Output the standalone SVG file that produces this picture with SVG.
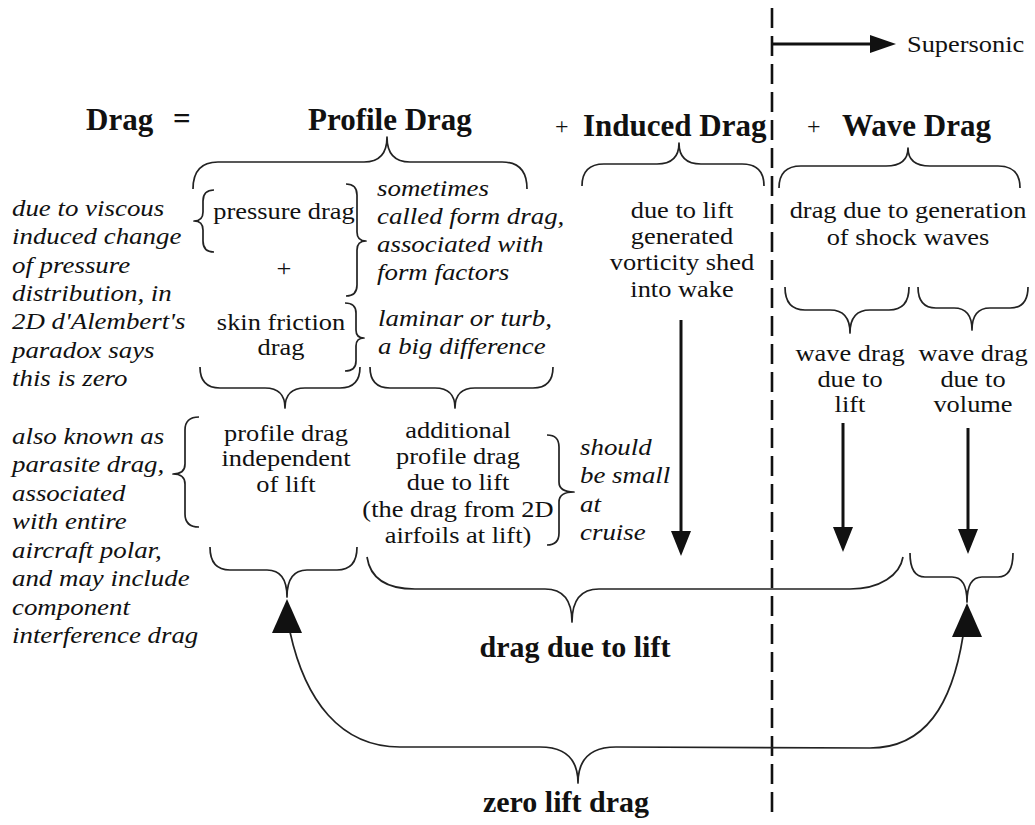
<svg xmlns="http://www.w3.org/2000/svg" width="1035" height="825" viewBox="0 0 1035 825">
<style>
text{font-family:"Liberation Serif","DejaVu Serif",serif;fill:#111}
.h{font-size:31px;font-weight:bold}
.b{font-size:30px;font-weight:bold}
.r{font-size:24px}
.i{font-size:24px;font-style:italic}
.brace{fill:none;stroke:#222;stroke-width:1.7;stroke-linejoin:round}
.shaft{fill:none;stroke:#111;stroke-width:3}
.head{fill:#111}
.dash{stroke:#111;stroke-width:2.6;stroke-dasharray:20 8}
</style>
<rect width="1035" height="825" fill="#fff"/>

<g id="equation">
<text class="h" x="86" y="130">Drag</text>
<text class="h" x="173" y="129">=</text>
<text class="r" x="555" y="134">+</text>
<text class="r" x="807" y="134">+</text>
</g>

<g id="supersonic-divider">
<line class="dash" x1="772" y1="8" x2="772" y2="812"/>
<text class="r" transform="translate(907,0) scale(1.1,1)"><tspan x="0" y="52">Supersonic</tspan></text>
</g>

<g id="profile-drag">
<text class="h" x="308" y="130">Profile Drag</text>
<path class="brace" d="M193,189 Q193,162 218,162 L364,162 Q387,162 387,137 Q387,162 410,162 L502,162 Q527,162 527,189"/>
</g>

<g id="pressure-drag">
<path class="brace" d="M214,190 Q203,190 203,201 L203,212 Q203,221 194,221 Q203,221 203,230 L203,241 Q203,252 214,252"/>
<text class="r" transform="translate(284,0) scale(1.1,1)" text-anchor="middle"><tspan x="0" y="219">pressure drag</tspan><tspan x="0" y="276">+</tspan></text>
</g>

<g id="pressure-note">
<text class="i" transform="translate(12,0) scale(1.12,1)"><tspan x="0" y="216">due to viscous</tspan><tspan x="0" y="244">induced change</tspan><tspan x="0" y="273">of pressure</tspan><tspan x="0" y="301">distribution, in</tspan><tspan x="0" y="329">2D d'Alembert's</tspan><tspan x="0" y="358">paradox says</tspan><tspan x="0" y="386">this is zero</tspan></text>
</g>

<g id="form-drag-note">
<path class="brace" d="M346,184 Q357,184 357,195 L357,232 Q357,241 366,241 Q357,241 357,250 L357,285 Q357,296 346,296"/>
<text class="i" transform="translate(377,0) scale(1.12,1)"><tspan x="0" y="196">sometimes</tspan><tspan x="0" y="224">called form drag,</tspan><tspan x="0" y="252">associated with</tspan><tspan x="0" y="280">form factors</tspan></text>
</g>

<g id="skin-friction">
<text class="r" transform="translate(281,0) scale(1.1,1)" text-anchor="middle"><tspan x="0" y="330">skin friction</tspan><tspan x="0" y="355">drag</tspan></text>
<path class="brace" d="M345,303 Q356,303 356,313 L356,330 Q356,338 364,338 Q356,338 356,346 L356,361 Q356,371 345,371"/>
<text class="i" transform="translate(378,0) scale(1.12,1)"><tspan x="0" y="326">laminar or turb,</tspan><tspan x="0" y="354">a big difference</tspan></text>
</g>

<g id="profile-independent">
<path class="brace" d="M200,367 Q200,388 220,388 L265,388 Q285,388 285,408 Q285,388 305,388 L340,388 Q360,388 360,367"/>
<text class="r" transform="translate(286,0) scale(1.1,1)" text-anchor="middle"><tspan x="0" y="441">profile drag</tspan><tspan x="0" y="466">independent</tspan><tspan x="0" y="492">of lift</tspan></text>
<path class="brace" d="M199,417 Q185,417 185,430 L185,464 Q185,474 173,474 Q185,474 185,484 L185,514 Q185,527 199,527"/>
<path class="brace" d="M210,547 Q210,570 230,570 L267,570 Q287,570 287,597 Q287,570 307,570 L337,570 Q357,570 357,547"/>
</g>

<g id="parasite-note">
<text class="i" transform="translate(12,0) scale(1.12,1)"><tspan x="0" y="444">also known as</tspan><tspan x="0" y="472">parasite drag,</tspan><tspan x="0" y="501">associated</tspan><tspan x="0" y="529">with entire</tspan><tspan x="0" y="558">aircraft polar,</tspan><tspan x="0" y="586">and may include</tspan><tspan x="0" y="615">component</tspan><tspan x="0" y="643">interference drag</tspan></text>
</g>

<g id="additional-profile">
<path class="brace" d="M370,367 Q370,388 390,388 L435,388 Q455,388 455,408 Q455,388 475,388 L533,388 Q553,388 553,367"/>
<text class="r" transform="translate(458,0) scale(1.1,1)" text-anchor="middle"><tspan x="0" y="438">additional</tspan><tspan x="0" y="464">profile drag</tspan><tspan x="0" y="490">due to lift</tspan><tspan x="0" y="517">(the drag from 2D</tspan><tspan x="0" y="543">airfoils at lift)</tspan></text>
<path class="brace" d="M547,435 Q559,435 559,447 L559,482 Q559,492 574,492 Q559,492 559,502 L559,533 Q559,545 547,545"/>
<text class="i" transform="translate(580,0) scale(1.12,1)"><tspan x="0" y="455">should</tspan><tspan x="0" y="483">be small</tspan><tspan x="0" y="512">at</tspan><tspan x="0" y="540">cruise</tspan></text>
</g>

<g id="induced-drag">
<text class="h" x="583" y="136">Induced Drag</text>
<path class="brace" d="M582,186 Q582,164 604,164 L657,164 Q679,164 679,143 Q679,164 701,164 L742,164 Q764,164 764,186"/>
<text class="r" transform="translate(682,0) scale(1.1,1)" text-anchor="middle"><tspan x="0" y="218">due to lift</tspan><tspan x="0" y="244">generated</tspan><tspan x="0" y="270">vorticity shed</tspan><tspan x="0" y="297">into wake</tspan></text>
</g>

<g id="wave-drag">
<text class="h" x="842" y="136">Wave Drag</text>
<path class="brace" d="M779,188 Q779,166 801,166 L886,166 Q908,166 908,148 Q908,166 930,166 L998,166 Q1020,166 1020,188"/>
<text class="r" transform="translate(908,0) scale(1.1,1)" text-anchor="middle"><tspan x="0" y="218">drag due to generation</tspan><tspan x="0" y="245">of shock waves</tspan></text>
</g>

<g id="wave-lift">
<path class="brace" d="M785,287 Q785,310 805,310 L830,310 Q850,310 850,333 Q850,310 870,310 L889,310 Q909,310 909,287"/>
<text class="r" transform="translate(850,0) scale(1.1,1)" text-anchor="middle"><tspan x="0" y="361">wave drag</tspan><tspan x="0" y="387">due to</tspan><tspan x="0" y="412">lift</tspan></text>
</g>

<g id="wave-volume">
<path class="brace" d="M918,287 Q918,308 936,308 L954,308 Q972,308 972,330 Q972,308 990,308 L1010,308 Q1028,308 1028,287"/>
<text class="r" transform="translate(973,0) scale(1.1,1)" text-anchor="middle"><tspan x="0" y="361">wave drag</tspan><tspan x="0" y="387">due to</tspan><tspan x="0" y="412">volume</tspan></text>
<path class="brace" d="M910,553 Q910,577 925,577 L952,577 Q967,577 967,602 Q967,577 982,577 L998,577 Q1013,577 1013,553"/>
</g>

<g id="drag-due-to-lift">
<path class="brace" d="M367,557 C370,577 385,589 415,589 L545,589 Q572,589 572,622 Q572,589 599,589 L850,589 C880,589 900,575 903,557"/>
<text class="b" x="575" y="657" text-anchor="middle">drag due to lift</text>
</g>

<g id="zero-lift-drag">
<text class="b" x="566" y="812" text-anchor="middle">zero lift drag</text>
</g>

<g id="connectors">
<line class="shaft" x1="772" y1="44" x2="871" y2="44"/>
<polygon class="head" points="870,35 896,44 870,53"/>
<line class="shaft" x1="681" y1="320" x2="681" y2="533"/>
<polygon class="head" points="671,531 691,531 681,556"/>
<line class="shaft" x1="843" y1="423" x2="843" y2="529"/>
<polygon class="head" points="833,527 853,527 843,552"/>
<line class="shaft" x1="968" y1="428" x2="968" y2="531"/>
<polygon class="head" points="958,529 978,529 968,554"/>
<path class="brace" d="M290,632 C305,700 340,747 400,747 L540,747 Q578,747 578,783 Q578,747 616,747 L870,748 C925,748 952,705 963,636"/>
<polygon class="head" points="287,599 302,633 272,633"/>
<polygon class="head" points="967,603 982,637 952,637"/>
</g>
</svg>
